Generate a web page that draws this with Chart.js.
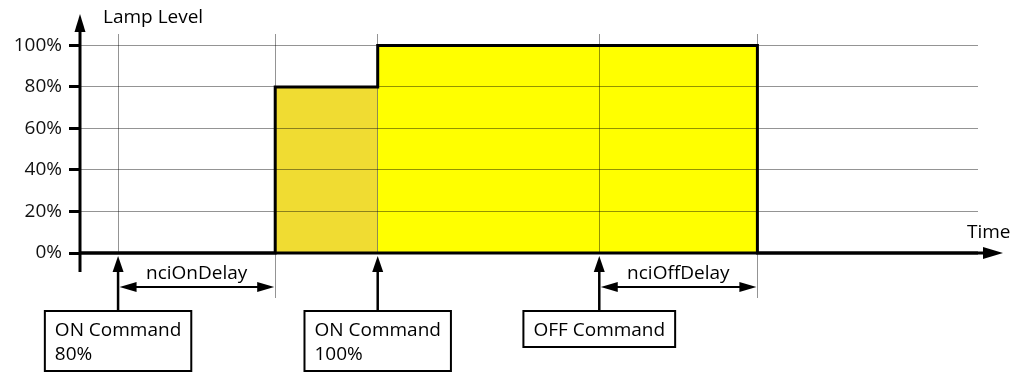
<!DOCTYPE html>
<html>
<head>
<meta charset="utf-8">
<script src="https://cdn.jsdelivr.net/npm/chart.js@4.4.0/dist/chart.umd.min.js"></script>
<style>
html, body { margin: 0; padding: 0; background: #fff; }
</style>
</head>
<body>
<canvas id="lampChart" width="1024" height="374"></canvas>
<script>
// lamp level in %, time in arbitrary units
const levelTicks = [0, 20, 40, 60, 80, 100];
const gridTimes = [1.95, 10, 15.25, 26.6, 34.7];
const stepTimes = [0, 10, 10, 15.25, 15.25, 34.7, 34.7, 46];
const stepLevels = [0, 0, 80, 80, 100, 100, 0, 0];
const dimTimes = [10, 15.25];
const dimLevels = [80, 80];
const fullTimes = [15.25, 34.7];
const fullLevels = [100, 100];
const commandTimes = [1.95, 15.25, 26.6];
const commandLabels = [['ON Command', '80%'], ['ON Command', '100%'], ['OFF Command']];
const delayStart = [1.95, 26.6];
const delayEnd = [10, 34.7];
const delayLabels = ['nciOnDelay', 'nciOffDelay'];

const FONT = '19px "Open Sans"';
const GRID = 'rgba(0,0,0,0.42)';

function pts(xs, ys) {
    return xs.map((x, i) => ({ x: x, y: ys[i] }));
}

function seg(ctx, x1, y1, x2, y2) {
    ctx.beginPath();
    ctx.moveTo(x1, y1);
    ctx.lineTo(x2, y2);
    ctx.stroke();
}

// filled triangle, tip at (x, y), dx/dy = direction it points
function head(ctx, x, y, dx, dy, len, half) {
    ctx.beginPath();
    ctx.moveTo(x, y);
    ctx.lineTo(x - dx * len - dy * half, y - dy * len - dx * half);
    ctx.lineTo(x - dx * len + dy * half, y - dy * len + dx * half);
    ctx.closePath();
    ctx.fill();
}

const overlay = {
    id: 'overlay',
    afterDraw(chart) {
        const ctx = chart.ctx;
        const xs = chart.scales.x;
        const ys = chart.scales.y;
        const area = chart.chartArea;
        const x0 = area.left;
        const y0 = ys.getPixelForValue(0);

        ctx.save();
        ctx.fillStyle = '#000';
        ctx.strokeStyle = '#000';

        // axes with arrows
        ctx.lineWidth = 3;
        seg(ctx, x0, y0 + 19, x0, area.top - 3);
        head(ctx, x0, area.top - 20, 0, -1, 18, 5.5);
        seg(ctx, x0, y0, area.right + 6, y0);
        head(ctx, area.right + 25, y0, 1, 0, 20, 6);

        ctx.font = FONT;
        ctx.textBaseline = 'middle';
        ctx.textAlign = 'left';
        ctx.fillText('Lamp Level', x0 + 23, area.top - 16);
        ctx.fillText('Time', area.right - 11, y0 - 20);

        // delay dimension arrows
        delayLabels.forEach((label, i) => {
            const a = xs.getPixelForValue(delayStart[i]);
            const b = xs.getPixelForValue(delayEnd[i]);
            const y = y0 + 34;
            ctx.strokeStyle = GRID;
            ctx.lineWidth = 1;
            seg(ctx, Math.round(b) + 0.5, y0, Math.round(b) + 0.5, y0 + 45);
            ctx.strokeStyle = '#000';
            ctx.lineWidth = 2;
            seg(ctx, a + 12, y, b - 12, y);
            head(ctx, a + 1.5, y, -1, 0, 17, 5);
            head(ctx, b - 1, y, 1, 0, 17, 5);
            ctx.textAlign = 'center';
            ctx.fillText(label, (a + b) / 2, y0 + 21);
        });

        // command boxes with up arrows
        commandLabels.forEach((lines, i) => {
            const cx = xs.getPixelForValue(commandTimes[i]);
            const w = Math.max(...lines.map(t => ctx.measureText(t).width)) + 20;
            const h = lines.length * 24 + 12;
            const top = y0 + 58;
            ctx.lineWidth = 2.5;
            seg(ctx, cx, top, cx, y0 + 16);
            head(ctx, cx, y0 + 3, 0, -1, 16, 5.5);
            ctx.lineWidth = 2;
            ctx.fillStyle = '#fff';
            ctx.fillRect(cx - w / 2, top, w, h);
            ctx.strokeRect(cx - w / 2, top, w, h);
            ctx.fillStyle = '#000';
            ctx.textAlign = 'left';
            lines.forEach((t, j) => ctx.fillText(t, cx - w / 2 + 10, top + 20 + j * 24));
        });

        ctx.restore();
    }
};

new Chart(document.getElementById('lampChart'), {
    type: 'line',
    data: {
        datasets: [
            {
                data: pts(stepTimes, stepLevels),
                borderColor: '#000',
                borderWidth: 3,
                borderJoinStyle: 'miter',
                pointRadius: 0,
                fill: false,
                clip: false,
                order: 0
            },
            {
                data: pts(fullTimes, fullLevels),
                borderWidth: 0,
                pointRadius: 0,
                backgroundColor: '#FFFF00',
                fill: 'origin',
                order: 1
            },
            {
                data: pts(dimTimes, dimLevels),
                borderWidth: 0,
                pointRadius: 0,
                backgroundColor: '#F0DC32',
                fill: 'origin',
                order: 2
            }
        ]
    },
    plugins: [overlay],
    options: {
        responsive: false,
        animation: false,
        devicePixelRatio: 1,
        layout: { padding: { top: 34, right: 46, bottom: 121, left: 0 } },
        plugins: { legend: { display: false }, tooltip: { enabled: false } },
        scales: {
            x: {
                type: 'linear',
                min: 0,
                max: 46,
                afterBuildTicks: s => { s.ticks = gridTimes.map(v => ({ value: v })); },
                afterFit: s => { s.height = 0; },
                ticks: { display: false },
                grid: { color: GRID, lineWidth: 1, drawTicks: false, z: 1 },
                border: { display: false }
            },
            y: {
                min: 0,
                max: 105.5,
                afterBuildTicks: s => { s.ticks = levelTicks.map(v => ({ value: v })); },
                afterFit: s => { s.width = 80; },
                ticks: {
                    padding: 7,
                    color: '#111',
                    font: { family: 'Open Sans', size: 19 },
                    callback: v => v + '%'
                },
                grid: { color: GRID, lineWidth: 1, tickLength: 11, tickColor: '#000', tickWidth: 3, z: 1 },
                border: { display: false }
            }
        }
    }
});
</script>
</body>
</html>
